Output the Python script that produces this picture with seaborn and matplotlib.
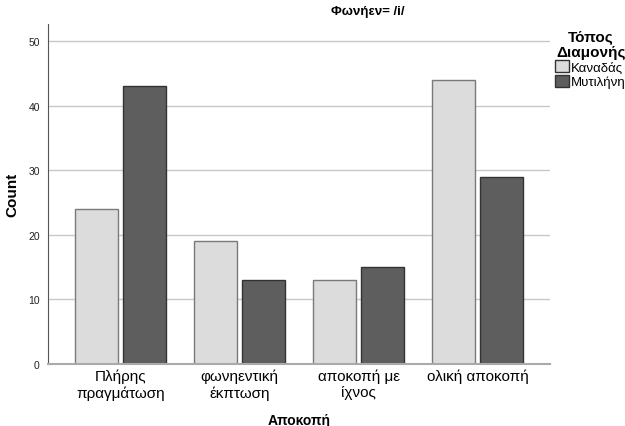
import matplotlib
matplotlib.use("Agg")
import matplotlib.pyplot as plt
import seaborn as sns
import pandas as pd

# Data
categories = ["Πλήρης\nπραγμάτωση", "φωνηεντική\nέκπτωση", "αποκοπή με\nίχνος", "ολική αποκοπή"]
groups = ["Καναδάς", "Μυτιλήνη"]
counts_canada = [24, 19, 13, 44]
counts_mytilene = [43, 13, 15, 29]

df = pd.DataFrame({
    "Αποκοπή": categories * 2,
    "Τόπος Διαμονής": [groups[0]] * 4 + [groups[1]] * 4,
    "Count": counts_canada + counts_mytilene,
})

sns.set_style("white")
plt.rcParams["font.family"] = ["Liberation Sans", "DejaVu Sans"]
plt.rcParams["text.color"] = "black"
plt.rcParams["axes.labelcolor"] = "black"

fig = plt.figure(figsize=(6.25, 4.27), dpi=100)
ax = fig.add_axes([0.077, 0.145, 0.803, 0.796])

palette = {"Καναδάς": "#dcdcdc", "Μυτιλήνη": "#5e5e5e"}
sns.barplot(data=df, x="Αποκοπή", y="Count", hue="Τόπος Διαμονής",
            palette=palette, width=0.8, gap=0.1, ax=ax, saturation=1,
            legend=True)

# bar edges
edges = {"Καναδάς": "#7a7a7a", "Μυτιλήνη": "#333333"}
for cont, name in zip(ax.containers, groups):
    for bar in cont:
        bar.set_edgecolor(edges[name])
        bar.set_linewidth(1.0)

ax.set_ylim(0, 52.6)
ax.set_xlim(-0.61, 3.61)
ax.set_yticks([0, 10, 20, 30, 40, 50])
ax.tick_params(axis="y", labelsize=7.5, length=0, pad=6, colors="#222222")
ax.tick_params(axis="x", labelsize=11, length=0, pad=3, colors="black")
ax.set_axisbelow(True)
ax.grid(axis="y", color="#c8c8c8", linewidth=1)
for s in ["top", "right"]:
    ax.spines[s].set_visible(False)
ax.spines["left"].set_color("#555555")
ax.spines["bottom"].set_color("#aaaaaa")
ax.spines["bottom"].set_linewidth(1.5)

ax.set_ylabel("Count", fontsize=11, fontweight="bold")
ax.yaxis.set_label_coords(-0.058, 0.5)
ax.set_xlabel("Αποκοπή", fontsize=10, fontweight="bold", labelpad=10)

fig.text(0.588, 0.972, "Φωνήεν= /i/", ha="center", va="center",
         fontsize=9.5, fontweight="bold")

leg = ax.legend(title="Τόπος\nΔιαμονής", loc="upper left",
                bbox_to_anchor=(0.995, 1.01), frameon=False, fontsize=9.5,
                title_fontproperties={"weight": "bold", "size": 11},
                handlelength=1.0, handleheight=1.0, handletextpad=0.2,
                labelspacing=0.1, borderaxespad=0.2)
leg.get_title().set_multialignment("center")
leg._legend_box.align = "right"
for h in leg.legend_handles:
    h.set_edgecolor("#333333")

fig.savefig("out.png", dpi=100)
